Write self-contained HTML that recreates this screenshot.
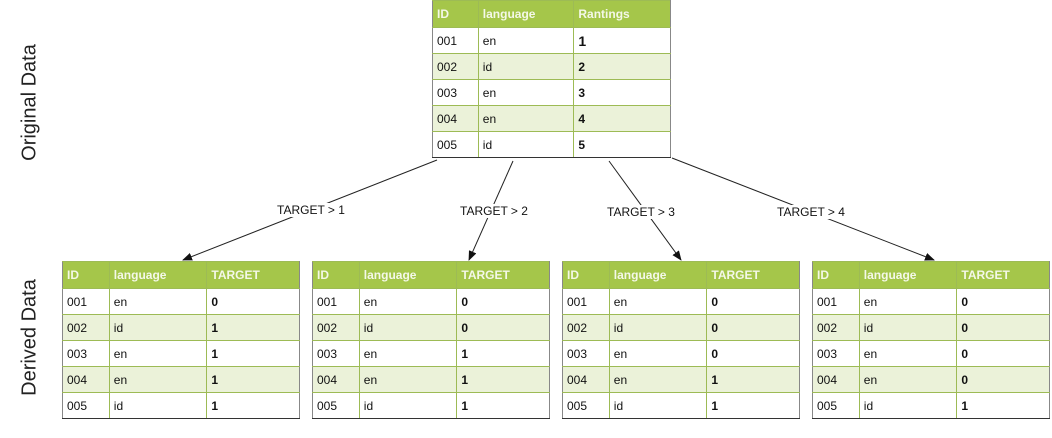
<!DOCTYPE html>
<html><head><meta charset="utf-8"><style>
body{margin:0;width:1052px;height:421px;background:#fff;position:relative;overflow:hidden;font-family:"Liberation Sans",sans-serif;}
.tbl{position:absolute;border-collapse:collapse;font-size:12px;color:#111;}
.tbl td,.tbl th{border:1px solid #9dbb55;padding:0 0 0 4px;text-align:left;height:25px;}
.tbl th{background:#a5c64a;color:#f4f8e8;font-weight:bold;height:26px;}
.tbl tr.alt td{background:#ebf2d9;}
.tbl tr.last td{border-bottom:1px solid #333;}
.tbl td:first-child,.tbl th:first-child{border-left:1px solid #888;}
.tbl td:last-child,.tbl th:last-child{border-right:1px solid #888;}
.tbl td.v{font-weight:bold;}
.vlab{position:absolute;font-size:20px;color:#222;transform:rotate(-90deg);transform-origin:center;white-space:nowrap;text-align:center;width:200px;}
.lab{position:absolute;font-size:12px;color:#111;white-space:nowrap;}
</style></head><body>
<div class="vlab" style="left:-70px;top:91px;">Original Data</div>
<div class="vlab" style="left:-70px;top:326px;">Derived Data</div>

<table class="tbl" style="left:432px;top:0;width:239px;">
<colgroup><col style="width:46px"><col style="width:96px"><col style="width:97px"></colgroup>
<tr><th>ID</th><th>language</th><th>Rantings</th></tr>
<tr><td>001</td><td>en</td><td class="v" style="font-size:14px">1</td></tr>
<tr class="alt"><td>002</td><td>id</td><td class="v">2</td></tr>
<tr><td>003</td><td>en</td><td class="v">3</td></tr>
<tr class="alt"><td>004</td><td>en</td><td class="v">4</td></tr>
<tr class="last"><td>005</td><td>id</td><td class="v">5</td></tr>
</table>

<svg width="1052" height="421" style="position:absolute;left:0;top:0">
<defs><marker id="ah" markerWidth="10" markerHeight="8" refX="9" refY="4" orient="auto"><path d="M0,0 L10,4 L0,8 z" fill="#111"/></marker></defs>
<g stroke="#222" stroke-width="1" fill="none" marker-end="url(#ah)">
<line x1="437" y1="160" x2="183" y2="260"/>
<line x1="513" y1="161" x2="469" y2="260"/>
<line x1="609" y1="161" x2="681" y2="260"/>
<line x1="672" y1="158" x2="934" y2="260"/>
</g></svg>
<div class="lab" style="left:277px;top:203px;background:#fff">TARGET &gt; 1</div>
<div class="lab" style="left:460px;top:204px;background:#fff">TARGET &gt; 2</div>
<div class="lab" style="left:607px;top:205px;background:#fff">TARGET &gt; 3</div>
<div class="lab" style="left:777px;top:205px;background:#fff">TARGET &gt; 4</div>

<div id="derived"></div>
<script>
const ids=["001","002","003","004","005"];
const langs=["en","id","en","en","id"];
const targets=[[0,1,1,1,1],[0,0,1,1,1],[0,0,0,1,1],[0,0,0,0,1]];
const c=document.getElementById('derived');
targets.forEach((t,k)=>{
  let h='<colgroup><col style="width:47px"><col style="width:98px"><col style="width:93px"></colgroup><tr><th>ID</th><th>language</th><th>TARGET</th></tr>';
  ids.forEach((id,i)=>{
    const cls=(i%2?'alt':'')+(i==4?' last':'');
    h+='<tr class="'+cls+'"><td>'+id+'</td><td>'+langs[i]+'</td><td class="v">'+t[i]+'</td></tr>';
  });
  const tb=document.createElement('table');
  tb.className='tbl';
  tb.style.left=(62+250*k)+'px';tb.style.top='261px';tb.style.width='238px';
  tb.innerHTML=h;
  
  
  c.appendChild(tb);
});
</script>
</body></html>
